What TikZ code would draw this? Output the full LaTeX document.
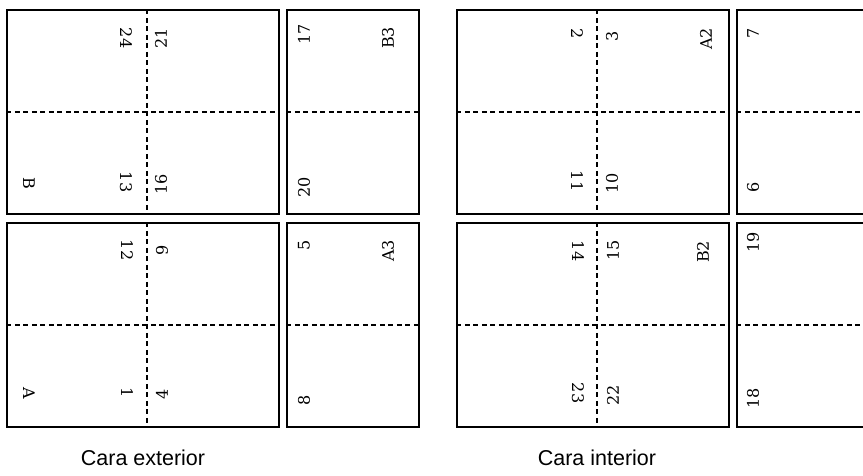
\documentclass[tikz,border=0pt]{standalone}
\usepackage{fontspec}
\newfontfamily\capfont{Liberation Sans}
\newfontfamily\numfont{DejaVu Serif}
\begin{document}
\begin{tikzpicture}[x=1pt,y=-1pt,
  sheet/.style={draw,line width=1.5pt,inner sep=0,minimum height=204pt},
  big/.style={sheet,minimum width=272pt},small/.style={sheet,minimum width=132pt},
  fold/.style={dash pattern=on 5pt off 3.5pt,line width=1.4pt},
  lft/.style={rotate=-90,inner sep=0,font=\numfont\fontsize{16}{18}\selectfont},
  rgt/.style={rotate=90,inner sep=0,font=\numfont\fontsize{16}{18}\selectfont},
  caption/.style={font=\capfont\fontsize{21.5}{24}\selectfont}]
\useasboundingbox (0,0) rectangle (863,475);
% sheets
\node[big](eB)at(143,112){};\node[big](eA)at(143,325){};
\node[small](e3B)at(353,112){};\node[small](e3A)at(353,325){};
\node[big](iA)at(593,112){};\node[big](iB)at(593,325){};
\node[small](i3A)at(803,112){};\node[small](i3B)at(803,325){};
% folds
\foreach \s in {eB,eA,e3B,e3A,iA,iB,i3A,i3B}\draw[fold](\s.west)--(\s.east);
\foreach \s in {eB,eA,iA,iB}\draw[fold]([xshift=4pt]\s.north)--([xshift=4pt]\s.south);
% page numbers
\foreach \n/\x/\y in {24/126/38,13/126/182,12/127/250,1/127/393,2/577/34,11/577/181,14/578/251,23/578/393}
  \node[lft](p\n)at(\x,\y){\n};
\foreach \n/\x/\y in {21/161/38,16/161/184,9/162/250,4/162/394,17/304/34,20/304/187,5/304/245,8/304/400,
  3/612/36,10/612/183,15/613/250,22/613/395,7/753/33,6/753/187,19/753/242,18/753/398}
  \node[rgt](p\n)at(\x,\y){\n};
\node[lft](lB)at(29,183){B};\node[lft](lA)at(29,393){A};
\node[rgt](lB3)at(388,38){B3};\node[rgt](lA3)at(388,251){A3};
\node[rgt](lA2)at(706,39){A2};\node[rgt](lB2)at(703,252){B2};
\node[caption](ext)at(143,458){Cara exterior};\node[caption](int)at(597,458){Cara interior};
\end{tikzpicture}
\end{document}
